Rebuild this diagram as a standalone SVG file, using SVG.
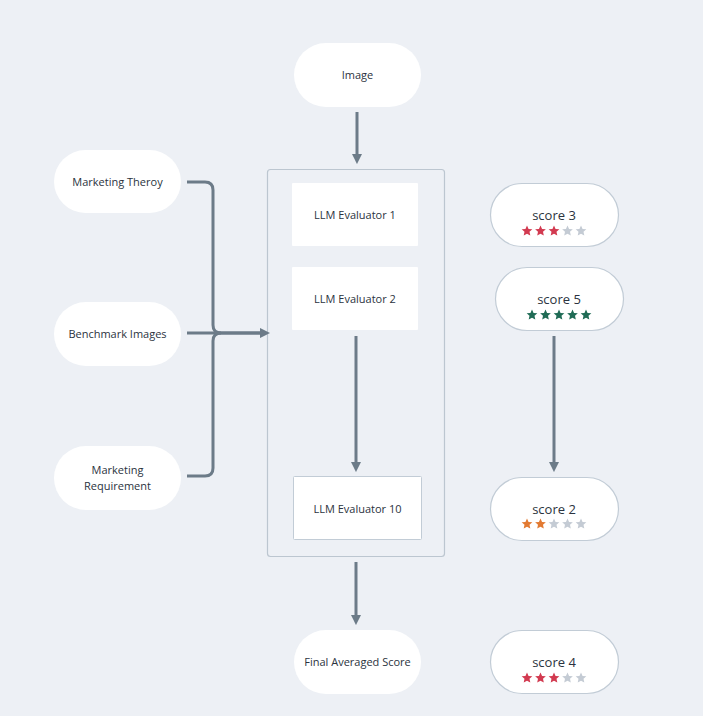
<svg xmlns="http://www.w3.org/2000/svg" xmlns:xlink="http://www.w3.org/1999/xlink" width="703" height="716" viewBox="0 0 703 716">
  <style>
    .pill { fill: #ffffff; }
    .score { fill: #ffffff; stroke: #c2ccd6; stroke-width: 1.2; }
    .box { fill: #ffffff; }
    .label { font-family: "Open Sans", "Liberation Sans", sans-serif; font-size: 11px; fill: #2b3340; text-anchor: middle; }
    .slabel { font-family: "Open Sans", "Liberation Sans", sans-serif; font-size: 13px; fill: #2b3340; text-anchor: middle; }
    .edge { fill: none; stroke: #6c7b88; stroke-width: 3; }
    .red { fill: #d23a50; }
    .grey { fill: #c4cbd4; }
    .green { fill: #1f6b55; }
    .orange { fill: #e27a32; }
  </style>
  <defs>
    <marker id="arrow" viewBox="0 0 10 10" refX="6" refY="5" markerWidth="3.4" markerHeight="3.4" orient="auto" markerUnits="strokeWidth">
      <path d="M0,0 L10,5 L0,10 Z" fill="#6c7b88"/>
    </marker>
    <path id="star" d="M0,-5.6 L1.55,-2.1 L5.35,-1.75 L2.5,0.8 L3.3,4.6 L0,2.65 L-3.3,4.6 L-2.5,0.8 L-5.35,-1.75 L-1.55,-2.1 Z"/>
  </defs>

  <rect x="0" y="0" width="703" height="716" fill="#edf0f5"/>

  <!-- evaluator container -->
  <g id="container">
    <rect x="267.5" y="169.5" width="177" height="387" rx="3" fill="none" stroke="#bcc6d0" stroke-width="1.2"/>
  </g>

  <g id="connectors">
    <path class="edge" d="M357,112 V160" marker-end="url(#arrow)"/>
    <path class="edge" d="M187,182 H205 Q213,182 213,190 V325 Q213,333 221,333 H266" marker-end="url(#arrow)"/>
    <path class="edge" d="M187,333 H266"/>
    <path class="edge" d="M187,476 H205 Q213,476 213,468 V341 Q213,333 221,333"/>
    <path class="edge" d="M356,336 V468" marker-end="url(#arrow)"/>
    <path class="edge" d="M356,562 V621" marker-end="url(#arrow)"/>
    <path class="edge" d="M554,336 V468" marker-end="url(#arrow)"/>
  </g>

  <g id="image">
    <rect class="pill" x="294" y="43" width="127" height="64" rx="32"/>
    <text class="label" x="357.5" y="79">Image</text>
  </g>

  <g id="marketing-theory">
    <rect class="pill" x="54" y="150" width="127" height="63" rx="31.5"/>
    <text class="label" x="117.5" y="186">Marketing Theroy</text>
  </g>

  <g id="benchmark-images">
    <rect class="pill" x="54" y="302" width="127" height="64" rx="32"/>
    <text class="label" x="117.5" y="338">Benchmark Images</text>
  </g>

  <g id="marketing-requirement">
    <rect class="pill" x="54" y="446" width="127" height="64" rx="32"/>
    <text class="label" x="117.5" y="474">Marketing</text>
    <text class="label" x="117.5" y="490">Requirement</text>
  </g>

  <g id="llm-evaluator-1">
    <rect class="box" x="292" y="183" width="126" height="63" rx="1"/>
    <text class="label" x="355" y="219">LLM Evaluator 1</text>
  </g>

  <g id="llm-evaluator-2">
    <rect class="box" x="292" y="267" width="126" height="63" rx="1"/>
    <text class="label" x="355" y="303">LLM Evaluator 2</text>
  </g>

  <g id="llm-evaluator-10">
    <rect class="box" x="293.5" y="476.5" width="128" height="63" rx="1" stroke="#c2ccd6" stroke-width="1"/>
    <text class="label" x="357.5" y="513">LLM Evaluator 10</text>
  </g>

  <g id="final-score">
    <rect class="pill" x="294" y="630" width="127" height="64" rx="32"/>
    <text class="label" x="357.5" y="666">Final Averaged Score</text>
  </g>

  <g id="score-3">
    <rect class="score" x="490.5" y="183.5" width="128" height="63" rx="31.5"/>
    <text class="slabel" x="554" y="220">score 3</text>
    <g transform="translate(0,231)">
      <use href="#star" class="red" x="527"/>
      <use href="#star" class="red" x="540.5"/>
      <use href="#star" class="red" x="554"/>
      <use href="#star" class="grey" x="567.5"/>
      <use href="#star" class="grey" x="581"/>
    </g>
  </g>

  <g id="score-5">
    <rect class="score" x="495.5" y="267.5" width="128" height="63" rx="31.5"/>
    <text class="slabel" x="559" y="304">score 5</text>
    <g transform="translate(0,315)">
      <use href="#star" class="green" x="532"/>
      <use href="#star" class="green" x="545.5"/>
      <use href="#star" class="green" x="559"/>
      <use href="#star" class="green" x="572.5"/>
      <use href="#star" class="green" x="586"/>
    </g>
  </g>

  <g id="score-2">
    <rect class="score" x="490.5" y="477.5" width="128" height="63" rx="31.5"/>
    <text class="slabel" x="554" y="514">score 2</text>
    <g transform="translate(0,524)">
      <use href="#star" class="orange" x="527"/>
      <use href="#star" class="orange" x="540.5"/>
      <use href="#star" class="grey" x="554"/>
      <use href="#star" class="grey" x="567.5"/>
      <use href="#star" class="grey" x="581"/>
    </g>
  </g>

  <g id="score-4">
    <rect class="score" x="490.5" y="630.5" width="128" height="63" rx="31.5"/>
    <text class="slabel" x="554" y="667">score 4</text>
    <g transform="translate(0,678)">
      <use href="#star" class="red" x="527"/>
      <use href="#star" class="red" x="540.5"/>
      <use href="#star" class="red" x="554"/>
      <use href="#star" class="grey" x="567.5"/>
      <use href="#star" class="grey" x="581"/>
    </g>
  </g>
</svg>
